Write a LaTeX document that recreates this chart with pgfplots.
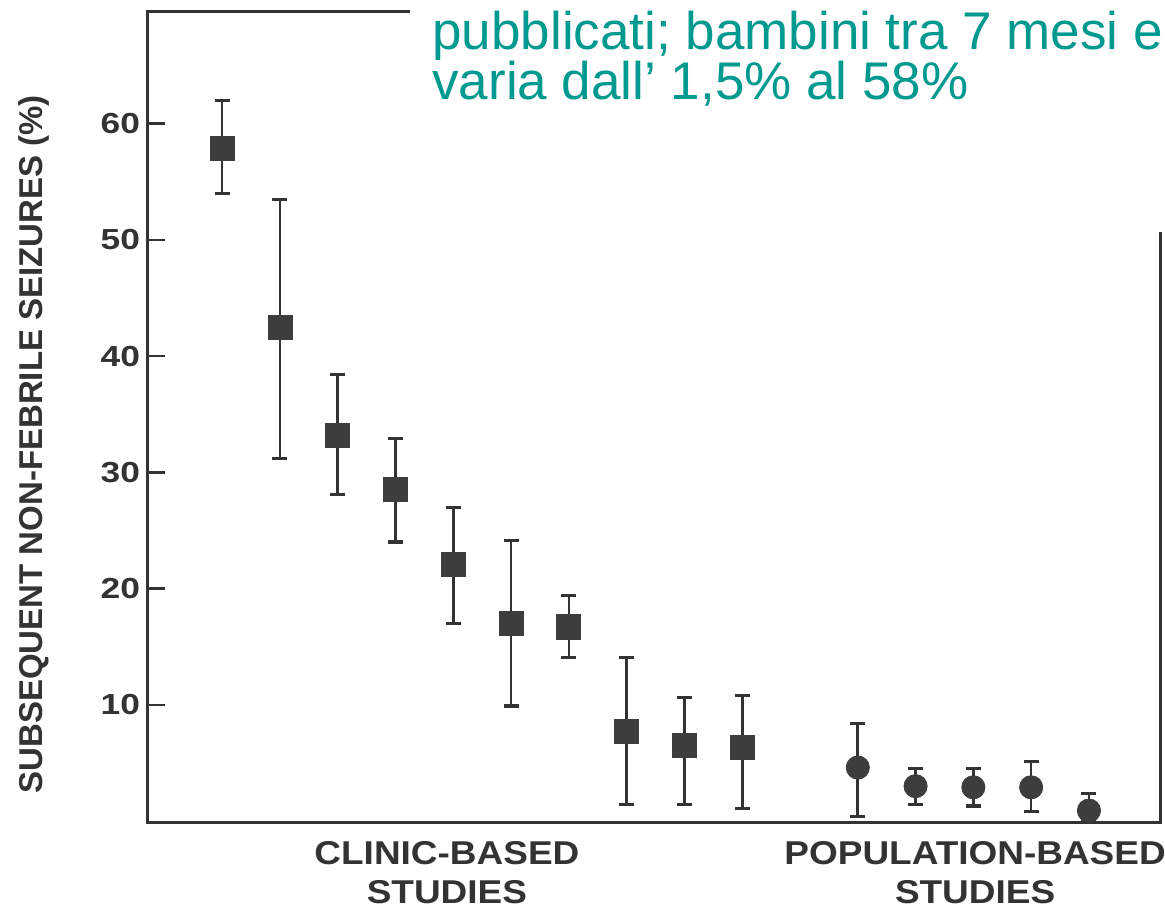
\documentclass[border=0pt]{standalone}
\usepackage{pgfplots}
\pgfplotsset{compat=1.18}
\usepackage{pgfplotstable}
\usepackage{fontspec}
\setmainfont{Liberation Sans}
\newfontfamily\widesans[FakeStretch=1.22]{Liberation Sans}
\newfontfamily\midsans[FakeStretch=1.12]{Liberation Sans}
\definecolor{ink}{HTML}{333333}
\definecolor{mk}{HTML}{3D3D3D}
\definecolor{slideteal}{HTML}{00998F}
\pgfplotstableread{
x y ep em
1 57.9 4.1 3.9
2 42.5 11.0 11.3
3 33.2 5.2 5.1
4 28.5 4.4 4.5
5 22.1 4.9 5.1
6 17.0 7.1 7.1
7 16.7 2.7 2.6
8 7.7 6.4 6.3
9 6.5 4.1 5.1
10 6.3 4.5 5.2
}\clinic
\pgfplotstableread{
x y ep em
12 4.6 3.8 4.2
13 3.0 1.5 1.6
14 2.9 1.6 1.6
15 2.9 2.2 2.1
16 0.9 1.5 0.9
}\population
\begin{document}
\begin{tikzpicture}
\useasboundingbox (0,0) rectangle (582.5pt,454pt);
\begin{axis}[
  at={(73.5pt,42.5pt)}, anchor=south west,
  scale only axis, width=506.5pt, height=405.5pt,
  xmin=-0.3, xmax=17.23, ymin=-0.17, ymax=69.6,
  xtick=\empty,
  ytick={10,20,30,40,50,60},
  tick align=inside, ytick pos=left, major tick length=9pt,
  axis line style={ink, line width=1.5pt},
  every tick/.style={ink, line width=1.2pt},
  yticklabel style={font=\widesans\fontsize{14.5}{14.5}\selectfont\bfseries, text=ink},
  /pgf/number format/assume math mode=true,
  ylabel={SUBSEQUENT NON-FEBRILE SEIZURES (\%)},
  ylabel style={font=\fontsize{16.5}{16.5}\selectfont\bfseries, text=ink,
    at={(axis description cs:-0.112,0.467)}, anchor=center},
  clip=false,
]
\addplot[only marks, mark=square*, mark size=6pt, color=mk,
  error bars/.cd, y dir=both, y explicit,
  error bar style={line width=1.3pt, color=ink},
  error mark options={rotate=90, line width=1.6pt, mark size=3.75pt, color=ink}]
  table[x=x, y=y, y error plus=ep, y error minus=em] {\clinic};
\addplot[only marks, mark=*, mark size=5.8pt, color=mk,
  error bars/.cd, y dir=both, y explicit,
  error bar style={line width=1.3pt, color=ink},
  error mark options={rotate=90, line width=1.6pt, mark size=3.75pt, color=ink}]
  table[x=x, y=y, y error plus=ep, y error minus=em] {\population};
\node[anchor=base, font=\midsans\fontsize{16.5}{16.5}\selectfont\bfseries, text=ink] at (axis cs:4.89,-3.75) {CLINIC-BASED};
\node[anchor=base, font=\midsans\fontsize{16.5}{16.5}\selectfont\bfseries, text=ink] at (axis cs:4.89,-7.1) {STUDIES};
\node[anchor=base, font=\midsans\fontsize{16.5}{16.5}\selectfont\bfseries, text=ink] at (axis cs:14.03,-3.75) {POPULATION-BASED};
\node[anchor=base, font=\midsans\fontsize{16.5}{16.5}\selectfont\bfseries, text=ink] at (axis cs:14.03,-7.1) {STUDIES};
\end{axis}
\fill[white] (205pt,338pt) rectangle (583pt,455pt);
\node[anchor=base west, inner sep=0pt, font=\fontsize{26.5}{26.5}\selectfont, text=slideteal] at (216pt,429pt) {pubblicati; bambini tra 7 mesi e};
\node[anchor=base west, inner sep=0pt, font=\fontsize{26.5}{26.5}\selectfont, text=slideteal] at (216pt,404pt) {varia dall’ 1,5\% al 58\%};
\end{tikzpicture}
\end{document}
